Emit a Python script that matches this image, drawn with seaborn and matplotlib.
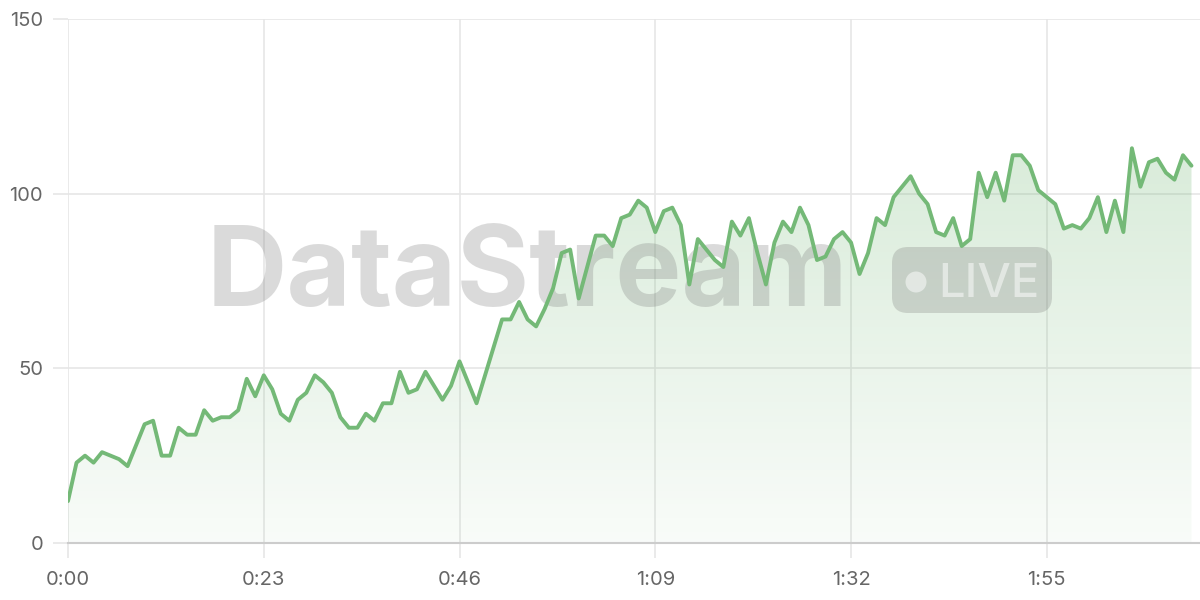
import numpy as np
import matplotlib
matplotlib.use("Agg")
import matplotlib.pyplot as plt
from matplotlib.patches import FancyBboxPatch, Circle
from matplotlib.transforms import IdentityTransform
import seaborn as sns
import pandas as pd

values = [12, 23, 25, 23, 26, 25, 24, 22, 28, 34,
          35, 25, 25, 33, 31, 31, 38, 35, 36, 36,
          38, 47, 42, 48, 44, 37, 35, 41, 43, 48,
          46, 43, 36, 33, 33, 37, 35, 40, 40, 49,
          43, 44, 49, 45, 41, 45, 52, 46, 40, 48,
          56, 64, 64, 69, 64, 62, 67, 73, 83, 84,
          70, 79, 88, 88, 85, 93, 94, 98, 96, 89,
          95, 96, 91, 74, 87, 84, 81, 79, 92, 88,
          93, 83, 74, 86, 92, 89, 96, 91, 81, 82,
          87, 89, 86, 77, 83, 93, 91, 99, 102, 105,
          100, 97, 89, 88, 93, 85, 87, 106, 99, 106,
          98, 111, 111, 108, 101, 99, 97, 90, 91, 90,
          93, 99, 89, 98, 89, 113, 102, 109, 110, 106,
          104, 111, 108]
seconds = list(range(len(values)))
x_tick_seconds = [0, 23, 46, 69, 92, 115]
x_tick_labels = ["0:00", "0:23", "0:46", "1:09", "1:32", "1:55"]
y_ticks = [0, 50, 100, 150]
watermark = "DataStream"
badge = "LIVE"

df = pd.DataFrame({"t": seconds, "v": values})

sns.set_theme(style="white")
plt.rcParams['font.family'] = ['Inter', 'DejaVu Sans']

W, H = 1200, 600
fig = plt.figure(figsize=(12, 6), dpi=100)
fig.patch.set_facecolor("white")
ax = fig.add_axes([68 / W, 57 / H, 1 - 68 / W, 524 / H])
ax.set_facecolor("white")

line_color = "#74b977"
green = np.array([0.45, 0.72, 0.46])

# gradient fill under the line
poly = ax.fill_between(df["t"], df["v"], 0, color="none", lw=0)
n = 300
vals = np.linspace(150, 0, n)
img = np.zeros((n, 1, 4))
img[..., :3] = green
img[:, 0, 3] = 0.045 + 0.002 * vals
im = ax.imshow(img, extent=[0, 133, 0, 150], aspect="auto", origin="upper",
               zorder=2, interpolation="bilinear")
im.set_clip_path(poly.get_paths()[0], transform=ax.transData)

sns.lineplot(data=df, x="t", y="v", ax=ax, color=line_color, lw=2.8,
             zorder=6, legend=False)

# watermark (pixel coordinates)
ax.text(207 / W, 1 - 306 / H, watermark, transform=fig.transFigure,
        fontsize=80, fontweight="bold", color=(0.45, 0.45, 0.45, 0.26),
        ha="left", va="baseline", zorder=4, clip_on=False)
pill = FancyBboxPatch((892, H - 313), 160, 66,
                      boxstyle="round,pad=0,rounding_size=16",
                      transform=IdentityTransform(),
                      facecolor=(0.45, 0.45, 0.45, 0.26), edgecolor="none",
                      zorder=4, clip_on=False)
ax.add_artist(pill)
dot = Circle((916, H - 282), 10.5, transform=IdentityTransform(),
             facecolor=(1, 1, 1, 0.5), edgecolor="none", zorder=4.5,
             clip_on=False)
ax.add_artist(dot)
ax.text(938 / W, 1 - 297 / H, badge, transform=fig.transFigure,
        fontsize=34, fontweight="medium", color=(1, 1, 1, 0.5),
        ha="left", va="baseline", zorder=4.5, clip_on=False)

ax.set_xlim(0, 133)
ax.set_ylim(0, 150)
ax.set_xticks(x_tick_seconds, x_tick_labels)
ax.set_yticks(y_ticks)
ax.set_xlabel("")
ax.set_ylabel("")

ax.grid(True, color="#e6e6e6", lw=1.2, zorder=0)
ax.set_axisbelow(True)
for s in ["top", "right", "left"]:
    ax.spines[s].set_visible(False)
ax.spines["bottom"].set_color("#cccccc")
ax.spines["bottom"].set_linewidth(1.5)
ax.tick_params(axis="both", length=11, width=1.2, color="#e6e6e6",
               labelcolor="#666666", labelsize=14.5)
ax.tick_params(axis="x", pad=9, bottom=True)
ax.tick_params(axis="y", pad=7, left=True)

fig.savefig("out.png", dpi=100, facecolor="white")
